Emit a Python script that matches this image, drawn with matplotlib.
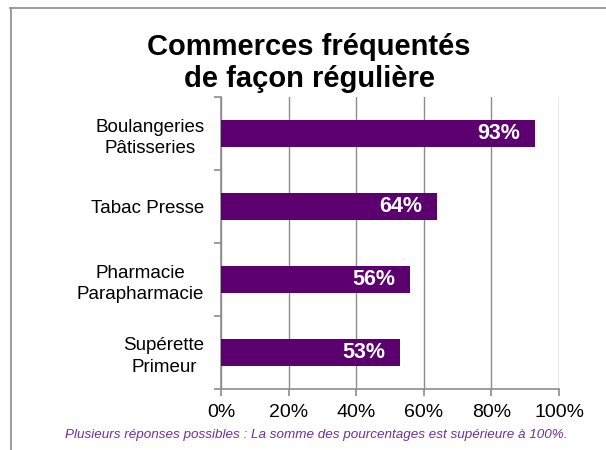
import matplotlib
matplotlib.use("Agg")
import matplotlib.pyplot as plt
from matplotlib.lines import Line2D
from matplotlib.ticker import FuncFormatter

plt.rcParams['font.family'] = ['Liberation Sans', 'DejaVu Sans']

categories = ["Boulangeries\nPâtisseries", "Tabac Presse", "Pharmacie\nParapharmacie", "Supérette\nPrimeur"]
values = [93, 64, 56, 53]
xticks = [0, 20, 40, 60, 80, 100]
title = "Commerces fréquentés\nde façon régulière"
footnote = "Plusieurs réponses possibles : La somme des pourcentages est supérieure à 100%."

bar_color = "#5c0070"
grid_color = "#8c8c8c"

fig = plt.figure(figsize=(6.06, 4.5), dpi=100)
W, H = 606, 450
ax = fig.add_axes([221 / W, 1 - 389 / H, (559 - 221) / W, (389 - 97) / H])

n = len(categories)
ypos = list(range(n))
ax.barh(ypos, values, height=0.38, color=bar_color, zorder=3)
for y, v in zip(ypos, values):
    ax.text(v - 4.4, y, f"{v}%", ha="right", va="center", color="white",
            fontsize=15.5, fontweight="bold", zorder=4)

ax.set_xlim(0, 100)
ax.set_ylim(n - 0.5, -0.5)
ax.set_xticks(xticks)
ax.xaxis.set_major_formatter(FuncFormatter(lambda x, p: f"{int(x)}%"))
ax.set_yticks(ypos)
ax.set_yticklabels(categories, fontsize=13.5, linespacing=1.38)
for lbl in ax.get_yticklabels():
    lbl.set_multialignment("center")
ax.set_yticks([i - 0.5 for i in range(n + 1)], minor=True)
ax.tick_params(axis="y", which="major", length=0, pad=12)
ax.tick_params(axis="y", which="minor", length=5, color=grid_color, width=1.2)
ax.tick_params(axis="x", length=5, color=grid_color, width=1.2, labelsize=14, pad=6)

ax.grid(axis="x", color=grid_color, linewidth=1, zorder=0)
for s in ["top", "right"]:
    ax.spines[s].set_visible(False)
for s in ["left", "bottom"]:
    ax.spines[s].set_color(grid_color)
    ax.spines[s].set_linewidth(1.2)

fig.text(309 / W, 1 - 63 / H, title, ha="center", va="center", fontsize=21,
         fontweight="bold", linespacing=1.17)
fig.text(316 / W, 1 - 435 / H, footnote, ha="center", va="center", fontsize=9.7,
         style="italic", color="#7030a0")

fig.add_artist(Line2D([10 / W, 1], [1 - 8 / H, 1 - 8 / H], color=grid_color, linewidth=1.2,
                      transform=fig.transFigure))
fig.add_artist(Line2D([11 / W, 11 / W], [0, 1 - 8 / H], color=grid_color, linewidth=1.2,
                      transform=fig.transFigure))

fig.savefig("out.png", dpi=100)
